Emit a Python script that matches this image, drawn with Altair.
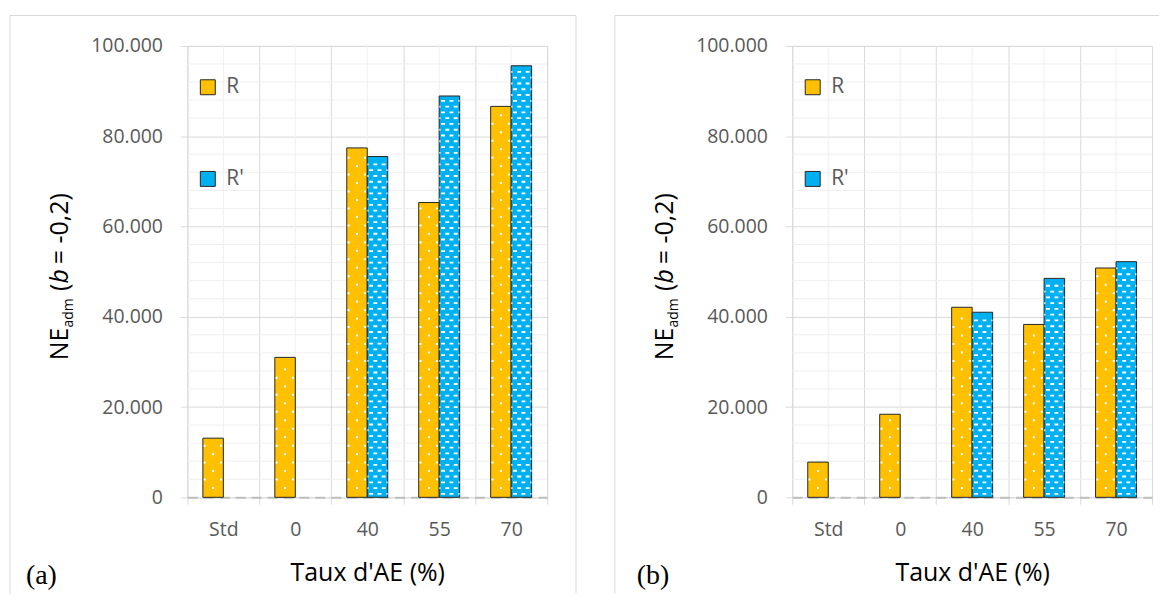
import altair as alt
import pandas as pd

# ---------------- data ----------------
categories = ["Std", "0", "40", "55", "70"]
series_names = ["R", "R'"]
r_a = [13100, 31000, 77400, 65300, 86600]
rp_a = [None, None, 75500, 88900, 95600]
r_b = [7800, 18400, 42100, 38300, 50800]
rp_b = [None, None, 41000, 48500, 52200]
y_ticks = [0, 20000, 40000, 60000, 80000, 100000]
y_minor_step = 4000
y_max = 100000
panel_labels = ["(a)", "(b)"]
x_title = "Taux d'AE (%)"

# ---------------- style ----------------
W, H = 361, 453
FONT = "Open Sans"
GRID = "#d9d9d9"
MINOR = "#efefef"
LABEL = "#595959"
COLORS = ["#FFC000", "#00B0F0"]
PAT_SIZE = 420  # custom symbol size -> 1 unit = sqrt(size)/2 px

# pattern paths (unit square -1..1)
def rect(cx, hw, hh):
    return f"M{cx-hw:.3f},{-hh:.3f}H{cx+hw:.3f}V{hh:.3f}H{cx-hw:.3f}Z"

dot_a = rect(0.0, 0.1, 0.1)
dot_b = rect(-0.82, 0.1, 0.1) + " " + rect(0.78, 0.1, 0.1)
dash_a = rect(-0.62, 0.19, 0.09) + " " + rect(0.2, 0.19, 0.09) + " " + rect(0.93, 0.06, 0.09)
dash_b = rect(-0.21, 0.19, 0.09) + " " + rect(0.61, 0.19, 0.09) + " " + rect(-0.93, 0.06, 0.09)


def bar_table(r, rp):
    rows = []
    for c, v1, v2 in zip(categories, r, rp):
        if v1 is not None:
            rows.append({"cat": c, "s": "R", "v": v1})
        if v2 is not None:
            rows.append({"cat": c, "s": "R'", "v": v2})
    return pd.DataFrame(rows)


def pattern_table(bars):
    rows = []
    for _, b in bars.iterrows():
        if b["s"] == "R":
            pitch, names, start = 8.5, ("dA", "dB"), 1.1
        else:
            pitch, names, start = 5.8, ("hA", "hB"), 0.6
        step = pitch * y_max / H
        k = 0
        while (k + start) * step < b["v"] - 0.45 * step:
            rows.append({"cat": b["cat"], "s": b["s"], "v": (k + start) * step,
                         "row": names[k % 2]})
            k += 1
    return pd.DataFrame(rows)


def panel(r, rp, label, label_dx):
    bars = bar_table(r, rp)
    pats = pattern_table(bars)
    minor_df = pd.DataFrame({"v": [v for v in range(y_minor_step, y_max, y_minor_step)
                                   if v % 20000 != 0]})
    cat_df = pd.DataFrame({"cat": categories})

    x_enc = alt.X("cat:N", sort=categories,
                  scale=alt.Scale(domain=categories, paddingInner=0, paddingOuter=0),
                  axis=alt.Axis(title=x_title, tickBand="extent", labelAngle=0,
                                labelFont=FONT, labelFontSize=19.5, labelColor=LABEL,
                                labelPadding=16, tickSize=7, tickColor=GRID, tickWidth=1,
                                grid=True, gridColor=GRID, gridWidth=1,
                                domainColor="#bfbfbf", domainWidth=2, domainDash=[10, 6],
                                titleFont=FONT, titleFontSize=25, titleFontWeight="normal",
                                titleColor="#000000", titlePadding=22))
    y_enc = alt.Y("v:Q", scale=alt.Scale(domain=[0, y_max], nice=False),
                  axis=alt.Axis(values=y_ticks,
                                labelExpr="replace(format(datum.value, ','), regexp(',', 'g'), '.')",
                                labelFont=FONT, labelFontSize=19.5, labelColor=LABEL,
                                labelPadding=18, tickSize=7, tickColor=GRID, tickWidth=1,
                                domain=False, grid=True, gridColor=GRID, gridWidth=1,
                                title=None))
    xo_enc = alt.XOffset("s:N", scale=alt.Scale(domain=series_names, paddingInner=0,
                                                paddingOuter=0.756))

    one = pd.DataFrame({"k": [0]})
    frame_color = "#d9d9d9"
    frame = [
        alt.Chart(one).mark_rule(color=frame_color, strokeWidth=1).encode(
            x=alt.value(-178), y=alt.value(-30.5), y2=alt.value(549.5)),
    ]
    if label == "(a)":
        frame += [
            alt.Chart(one).mark_rule(color=frame_color, strokeWidth=1).encode(
                x=alt.value(-178), x2=alt.value(390), y=alt.value(-30.5)),
            alt.Chart(one).mark_rule(color=frame_color, strokeWidth=1).encode(
                x=alt.value(390), y=alt.value(-30.5), y2=alt.value(549.5)),
        ]
    else:
        frame += [
            alt.Chart(one).mark_rule(color=frame_color, strokeWidth=1).encode(
                x=alt.value(-178), x2=alt.value(W + 7), y=alt.value(-30.5)),
        ]

    minor_h = alt.Chart(minor_df).mark_rule(color=MINOR, strokeWidth=1).encode(
        y=y_enc, x=alt.value(0), x2=alt.value(W))
    minor_v = alt.Chart(cat_df).mark_rule(color=MINOR, strokeWidth=1).encode(
        x=x_enc, y=alt.value(0), y2=alt.value(H))

    legend = alt.Legend(orient="none", legendX=10, legendY=31, direction="vertical",
                        title=None, symbolType="square", symbolSize=225,
                        symbolStrokeColor="#262626", symbolStrokeWidth=1,
                        labelFont=FONT, labelFontSize=21, labelColor=LABEL,
                        labelOffset=8, rowPadding=70)
    bar_layer = alt.Chart(bars).mark_bar(stroke="#262626", strokeWidth=1).encode(
        x=x_enc, xOffset=xo_enc, y=y_enc,
        fill=alt.Fill("s:N", scale=alt.Scale(domain=series_names, range=COLORS),
                      legend=legend))
    pat_layer = alt.Chart(pats).mark_point(filled=True, color="white", opacity=1,
                                           strokeWidth=0, size=PAT_SIZE).encode(
        x=x_enc, xOffset=xo_enc, y=y_enc,
        shape=alt.Shape("row:N", scale=alt.Scale(domain=["dA", "dB", "hA", "hB"],
                                                 range=[dot_a, dot_b, dash_a, dash_b]),
                        legend=None))

    def txt(t, x, y, size, style="normal", font=FONT, angle=270):
        return alt.Chart(one).mark_text(text=t, angle=angle, align="left",
                                        baseline="alphabetic", font=font, fontSize=size,
                                        fontStyle=style, color="#000000").encode(
            x=alt.value(x), y=alt.value(y))

    title_parts = [
        txt("NE", -120, 315.5, 25),
        txt("adm", -115, 282.5, 14),
        txt("(", -120, 246, 25),
        txt("b", -120, 238.5, 25, style="italic"),
        txt(" = -0,2)", -120, 219, 25),
        txt(label, label_dx, 540, 28, font="Liberation Serif", angle=0),
    ]

    return alt.layer(*frame, minor_h, minor_v, bar_layer, pat_layer, *title_parts).properties(
        width=W, height=H)


pa = panel(r_a, rp_a, panel_labels[0], -162)
pb = panel(r_b, rp_b, panel_labels[1], -156)

chart = alt.hconcat(pa, pb, spacing=37).resolve_scale(
    fill="independent", shape="independent").resolve_legend(
    fill="independent").properties(
    padding={"left": 1, "top": 5, "right": 0, "bottom": 0}
).configure_view(stroke=None).configure(background="white")

chart.save("out.html", embed_options={"renderer": "svg", "actions": False})
